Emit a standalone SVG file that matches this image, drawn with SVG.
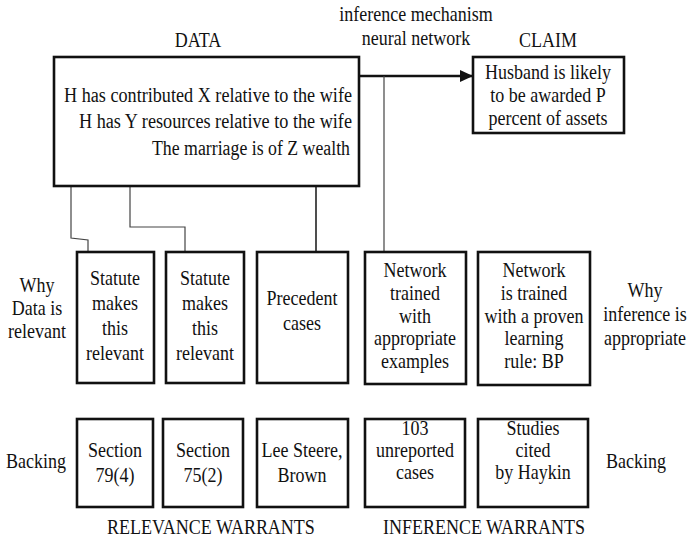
<svg xmlns="http://www.w3.org/2000/svg" width="688" height="544" viewBox="0 0 688 544">
  <style>
    text { font-family: "Liberation Serif", "Times New Roman", serif; font-size: 20px; fill: #111; text-anchor: middle;
           transform-box: fill-box; transform-origin: center; transform: scaleX(0.9); }
    text.fit { text-anchor: end; transform: none; }
    .box { fill: #fff; stroke: #111; stroke-width: 2.6; }
    .link { fill: none; stroke: #444; stroke-width: 1.2; }
    .link-strong { fill: none; stroke: #222; stroke-width: 1.6; }
    .flow { fill: none; stroke: #111; stroke-width: 2.6; }
  </style>
  <defs>
    <marker id="arrowhead" markerWidth="13" markerHeight="12" refX="13" refY="6" orient="auto" markerUnits="userSpaceOnUse">
      <path d="M0,0 L13,6 L0,12 Z" fill="#111"/>
    </marker>
  </defs>

  <rect width="688" height="544" fill="#fff"/>

  <!-- headings -->
  <text x="198" y="47">DATA</text>
  <text x="416" y="21">inference mechanism</text>
  <text x="416" y="45">neural network</text>
  <text x="548" y="47">CLAIM</text>

  <!-- connectors -->
  <g id="connectors">
    <path class="flow" d="M359,76 H473" marker-end="url(#arrowhead)"/>
    <path class="link" d="M71,105 V238 L88,240 V252"/>
    <path class="link" d="M130,133 V227 H185 V252"/>
    <path class="link-strong" d="M316,161 V252"/>
    <path class="link" d="M384,76 V252"/>
  </g>

  <!-- data -->
  <g id="data">
    <rect class="box" x="54" y="57" width="305" height="129"/>
    <text class="fit" x="352" y="102" textLength="288" lengthAdjust="spacingAndGlyphs">H has contributed X relative to the wife</text>
    <text class="fit" x="352" y="128" textLength="273" lengthAdjust="spacingAndGlyphs">H has Y resources relative to the wife</text>
    <text class="fit" x="350" y="155" textLength="198" lengthAdjust="spacingAndGlyphs">The marriage is of Z wealth</text>
  </g>

  <!-- claim -->
  <g id="claim">
    <rect class="box" x="473" y="57" width="151" height="76"/>
    <text x="548" y="79">Husband is likely</text>
    <text x="548" y="102">to be awarded P</text>
    <text x="548" y="125">percent of assets</text>
  </g>

  <!-- side labels -->
  <g id="label-why-data">
    <text x="37" y="292">Why</text>
    <text x="37" y="315">Data is</text>
    <text x="37" y="338">relevant</text>
  </g>
  <g id="label-why-inference">
    <text x="645" y="297">Why</text>
    <text x="645" y="321">inference is</text>
    <text x="645" y="345">appropriate</text>
  </g>
  <g id="label-backing-left">
    <text x="36" y="468">Backing</text>
  </g>
  <g id="label-backing-right">
    <text x="636" y="468">Backing</text>
  </g>

  <!-- warrants -->
  <g id="warrant-statute-1">
    <rect class="box" x="77" y="252" width="77" height="131"/>
    <text x="115" y="285">Statute</text>
    <text x="115" y="310">makes</text>
    <text x="115" y="335">this</text>
    <text x="115" y="360">relevant</text>
  </g>
  <g id="warrant-statute-2">
    <rect class="box" x="166" y="252" width="78" height="131"/>
    <text x="205" y="285">Statute</text>
    <text x="205" y="310">makes</text>
    <text x="205" y="335">this</text>
    <text x="205" y="360">relevant</text>
  </g>
  <g id="warrant-precedent">
    <rect class="box" x="257" y="252" width="91" height="131"/>
    <text x="302" y="305">Precedent</text>
    <text x="302" y="330">cases</text>
  </g>
  <g id="warrant-network-examples">
    <rect class="box" x="365" y="252" width="101" height="132"/>
    <text x="415" y="277">Network</text>
    <text x="415" y="300">trained</text>
    <text x="415" y="323">with</text>
    <text x="415" y="345">appropriate</text>
    <text x="415" y="368">examples</text>
  </g>
  <g id="warrant-network-rule">
    <rect class="box" x="478" y="252" width="112" height="133"/>
    <text x="534" y="277">Network</text>
    <text x="534" y="300">is trained</text>
    <text x="534" y="323">with a proven</text>
    <text x="534" y="345">learning</text>
    <text x="534" y="368">rule: BP</text>
  </g>

  <!-- backing -->
  <g id="backing-s79">
    <rect class="box" x="77" y="419" width="76" height="88"/>
    <text x="115" y="457">Section</text>
    <text x="115" y="482">79(4)</text>
  </g>
  <g id="backing-s75">
    <rect class="box" x="163" y="419" width="80" height="88"/>
    <text x="203" y="457">Section</text>
    <text x="203" y="482">75(2)</text>
  </g>
  <g id="backing-cases">
    <rect class="box" x="257" y="419" width="91" height="88"/>
    <text x="302" y="457">Lee Steere,</text>
    <text x="302" y="482">Brown</text>
  </g>
  <g id="backing-unreported">
    <rect class="box" x="365" y="419" width="100" height="88"/>
    <text x="415" y="435">103</text>
    <text x="415" y="457">unreported</text>
    <text x="415" y="479">cases</text>
  </g>
  <g id="backing-haykin">
    <rect class="box" x="478" y="419" width="110" height="88"/>
    <text x="533" y="435">Studies</text>
    <text x="533" y="457">cited</text>
    <text x="533" y="479">by Haykin</text>
  </g>

  <!-- group titles -->
  <text x="211" y="534">RELEVANCE WARRANTS</text>
  <text x="484" y="534">INFERENCE WARRANTS</text>
</svg>
